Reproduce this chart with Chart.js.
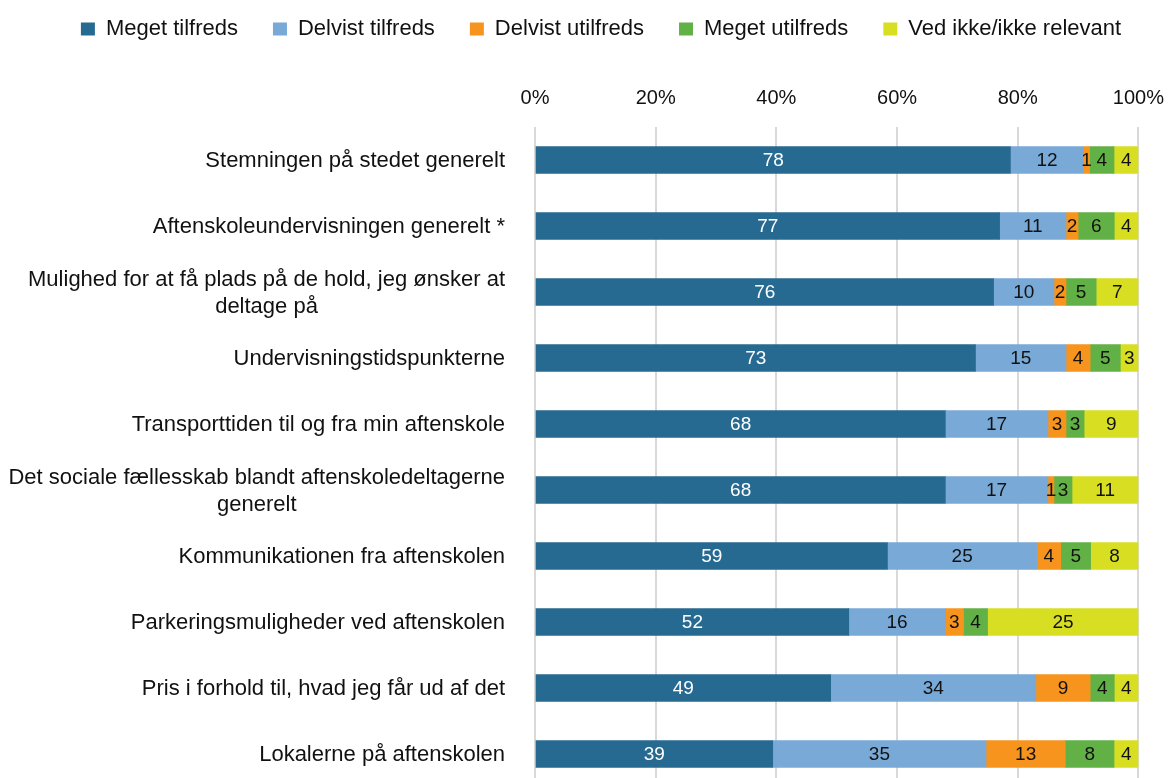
<!DOCTYPE html>
<html>
<head>
<meta charset="utf-8">
<script src="https://cdn.jsdelivr.net/npm/chart.js@4"></script>
<style>
  html, body { margin: 0; padding: 0; background: #fff; overflow: hidden; }
  #wrap { width: 1168px; height: 787px; position: relative; }
</style>
</head>
<body>
<div id="wrap"><canvas id="chart"></canvas></div>
<script>
const categories = [
    'Stemningen på stedet generelt',
    'Aftenskoleundervisningen generelt *',
    ['Mulighed for at få plads på de hold, jeg ønsker at', 'deltage på'],
    'Undervisningstidspunkterne',
    'Transporttiden til og fra min aftenskole',
    ['Det sociale fællesskab blandt aftenskoledeltagerne', 'generelt'],
    'Kommunikationen fra aftenskolen',
    'Parkeringsmuligheder ved aftenskolen',
    'Pris i forhold til, hvad jeg får ud af det',
    'Lokalerne på aftenskolen'
];
const seriesNames = ['Meget tilfreds', 'Delvist tilfreds', 'Delvist utilfreds', 'Meget utilfreds', 'Ved ikke/ikke relevant'];
const megetTilfreds    = [78, 77, 76, 73, 68, 68, 59, 52, 49, 39];
const delvistTilfreds  = [12, 11, 10, 15, 17, 17, 25, 16, 34, 35];
const delvistUtilfreds = [1, 2, 2, 4, 3, 1, 4, 3, 9, 13];
const megetUtilfreds   = [4, 6, 5, 5, 3, 3, 5, 4, 4, 8];
const vedIkke          = [4, 4, 7, 3, 9, 11, 8, 25, 4, 4];
const tickLabels = ['0%', '20%', '40%', '60%', '80%', '100%'];

const colors = ['#276a91', '#78a9d7', '#f7941e', '#62b146', '#d8df23'];
const labelColors = ['#ffffff', '#111111', '#111111', '#111111', '#111111'];
const FONT = '"Liberation Sans", Arial, sans-serif';
const FS = 22;

const allSeries = [megetTilfreds, delvistTilfreds, delvistUtilfreds, megetUtilfreds, vedIkke];
// 100% stacked: each row is scaled to its own total
const totals = categories.map((_, i) => allSeries.reduce((s, arr) => s + arr[i], 0));

const datasets = allSeries.map((arr, k) => ({
    label: seriesNames[k],
    data: arr.map((v, i) => v / totals[i] * 100),
    raw: arr,
    backgroundColor: colors[k],
    borderWidth: 0,
    barThickness: 27
}));

// value labels inside each segment
const valueLabels = {
    id: 'valueLabels',
    afterDatasetsDraw(chart) {
        const ctx = chart.ctx;
        ctx.save();
        ctx.font = '19px ' + FONT;
        ctx.textAlign = 'center';
        ctx.textBaseline = 'middle';
        chart.data.datasets.forEach((ds, k) => {
            chart.getDatasetMeta(k).data.forEach((bar, i) => {
                ctx.fillStyle = labelColors[k];
                ctx.fillText(String(ds.raw[i]), (bar.x + bar.base) / 2, bar.y + 1);
            });
        });
        ctx.restore();
    }
};

// category labels, block right-aligned next to the bars, lines centred on each other
const categoryLabels = {
    id: 'categoryLabels',
    afterDraw(chart) {
        const ctx = chart.ctx;
        const y = chart.scales.y;
        const right = chart.chartArea.left - 30;
        const lh = 27;
        ctx.save();
        ctx.font = FS + 'px ' + FONT;
        ctx.fillStyle = '#111111';
        ctx.textAlign = 'center';
        ctx.textBaseline = 'middle';
        categories.forEach((c, i) => {
            const lines = Array.isArray(c) ? c : [c];
            const w = Math.max(...lines.map(l => ctx.measureText(l).width));
            const cy = y.getPixelForTick(i);
            lines.forEach((l, j) => {
                ctx.fillText(l, right - w / 2, cy + (j - (lines.length - 1) / 2) * lh + 1);
            });
        });
        ctx.restore();
    }
};

// legend in the original sits a bit right of centre
const legendShift = {
    id: 'legendShift',
    afterLayout(chart) {
        chart.legend.left += 17;
        chart.legend.right += 17;
    }
};

new Chart(document.getElementById('chart'), {
    type: 'bar',
    data: { labels: categories, datasets },
    options: {
        indexAxis: 'y',
        responsive: true,
        maintainAspectRatio: false,
        animation: false,
        layout: { padding: { left: 0, right: 0, top: -17, bottom: 0 } },
        plugins: {
            legend: {
                position: 'top',
                labels: {
                    boxWidth: 14,
                    boxHeight: 13,
                    padding: 35,
                    color: '#111111',
                    font: { family: FONT, size: FS }
                }
            },
            tooltip: { enabled: false }
        },
        scales: {
            x: {
                position: 'top',
                stacked: true,
                min: 0,
                max: 100,
                ticks: {
                    stepSize: 20,
                    color: '#111111',
                    font: { family: FONT, size: 20 },
                    padding: 4,
                    callback: (v) => tickLabels[Math.round(v / 20)]
                },
                grid: { color: '#d9d9d9', lineWidth: 2, drawTicks: true, tickLength: 13, tickColor: 'rgba(0,0,0,0)' },
                border: { display: false },
                afterFit: (s) => { s.height = 77; }
            },
            y: {
                stacked: true,
                ticks: { display: false },
                grid: { display: false },
                border: { display: false },
                afterFit: (s) => { s.width = 535; }
            }
        }
    },
    plugins: [valueLabels, categoryLabels, legendShift]
});
</script>
</body>
</html>
